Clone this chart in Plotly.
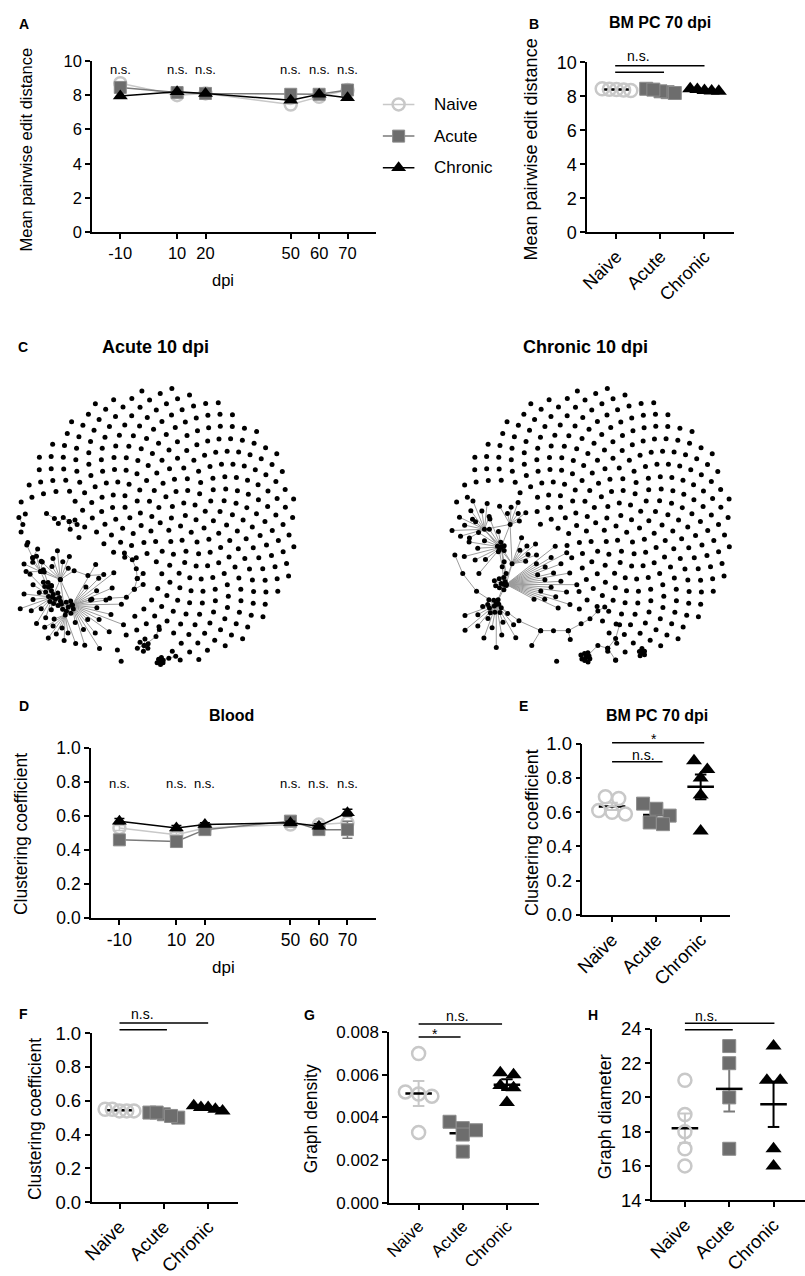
import numpy as np
import plotly.graph_objects as go

W, H = 805, 1276
FONT = "Liberation Sans, Arial, sans-serif"
NARROW = "Liberation Sans Narrow, Liberation Sans, Arial Narrow, sans-serif"

GROUPS = ["Naive", "Acute", "Chronic"]

# ---- time courses (A: mean pairwise edit distance, D: clustering coefficient, blood)
DPI = [-10, 10, 20, 50, 60, 70]
A_NAIVE = [8.7, 8.0, 8.1, 7.45, 7.9, 8.3]
A_ACUTE = [8.45, 8.15, 8.1, 8.05, 8.05, 8.3]
A_CHRONIC = [7.95, 8.2, 8.1, 7.7, 8.05, 7.85]

D_NAIVE = [0.53, 0.49, 0.53, 0.55, 0.55, 0.56]
D_ACUTE = [0.46, 0.45, 0.52, 0.57, 0.52, 0.52]
D_CHRONIC = [0.57, 0.53, 0.55, 0.56, 0.54, 0.62]
D_NAIVE_SEM = [0.015, 0.015, 0.01, 0.015, 0.015, 0.01]
D_ACUTE_SEM = [0.015, 0.015, 0.015, 0.015, 0.02, 0.05]
D_CHRONIC_SEM = [0.015, 0.015, 0.01, 0.01, 0.015, 0.02]

# ---- BM PC 70 dpi, per mouse
B_NAIVE = [8.42, 8.38, 8.45, 8.35, 8.40]
B_ACUTE = [8.25, 8.45, 8.30, 8.40, 8.20]
B_CHRONIC = [8.35, 8.45, 8.30, 8.40, 8.32]

E_NAIVE = [0.69, 0.68, 0.60, 0.59, 0.61]
E_ACUTE = [0.65, 0.62, 0.58, 0.54, 0.53]
E_CHRONIC = [0.90, 0.85, 0.80, 0.70, 0.49]

F_NAIVE = [0.54, 0.55, 0.54, 0.54, 0.55]
F_ACUTE = [0.50, 0.53, 0.52, 0.51, 0.53]
F_CHRONIC = [0.56, 0.57, 0.55, 0.56, 0.54]

G_NAIVE = [0.0070, 0.0052, 0.0051, 0.0050, 0.0033]
G_ACUTE = [0.0038, 0.0035, 0.0034, 0.0032, 0.0024]
G_CHRONIC = [0.0061, 0.0060, 0.0055, 0.0054, 0.0047]

H_NAIVE = [21, 19, 18, 17, 16]
H_ACUTE = [23, 22, 20, 17]
H_CHRONIC = [23, 21, 21, 17, 16]

# ---- network graphs (panel C): hubs (x, y, leaves, angle from, angle to, r in, r out)
ACUTE_CENTER = (149.5, 525)
CHRONIC_CENTER = (591, 525)
DISC_R = 142
N_DOTS = 420
ACUTE_HOLES = [(55, 600, 66), (118, 580, 24), (138, 648, 20), (40, 518, 22)]
ACUTE_HUBS = [
    (42, 596, 14, 95, 265, 12, 36),
    (62, 604, 20, -80, 60, 18, 58),
    (50, 578, 8, 55, 150, 14, 32),
    (55, 614, 9, 200, 290, 12, 32),
    (30, 570, 5, 80, 180, 10, 20),
]
ACUTE_CHAINS = [
    [(62, 604), (82, 598), (100, 597), (117, 596), (125, 588), (128, 577), (127, 567), (123, 558), (115, 551)],
    [(128, 577), (134, 572)],
    [(125, 588), (134, 583)],
    [(50, 578), (64, 569), (78, 574), (94, 573)],
    [(30, 570), (22, 556), (16, 543)],
    [(22, 556), (27, 547)],
    [(135, 645), (147, 636), (150, 626)],
    [(152, 660), (160, 658), (167, 656)],
    [(8, 515), (12, 522)],
    [(36, 511), (44, 516)],
    [(48, 521), (53, 515), (59, 519), (67, 522)],
    [(59, 519), (60, 527)],
]
ACUTE_CLUMPS = [(45, 598, 8, 8), (58, 606, 8, 8), (38, 586, 5, 6), (135, 645, 6, 8), (152, 661, 6, 4.5)]

CHRONIC_HOLES = [(497, 592, 78), (492, 530, 45), (578, 640, 28), (640, 652, 12)]
CHRONIC_HUBS = [
    (497, 545, 12, 100, 230, 16, 40),
    (480, 527, 11, 70, 210, 14, 34),
    (506, 522, 7, 20, 120, 10, 26),
    (502, 583, 20, -28, 38, 32, 74),
    (492, 603, 14, 190, 320, 14, 46),
    (508, 562, 7, 10, 70, 14, 34),
]
CHRONIC_CHAINS = [
    [(497, 545), (500, 560), (502, 572), (502, 583)],
    [(495, 548), (498, 565), (500, 583)],
    [(492, 603), (472, 590), (458, 572), (450, 553)],
    [(492, 603), (515, 620), (537, 630), (550, 630), (565, 630), (578, 623), (587, 618), (595, 610), (602, 606)],
    [(537, 630), (528, 645)],
    [(565, 630), (567, 639)],
    [(583, 657), (595, 645), (605, 648), (613, 638), (617, 624)],
    [(605, 648), (613, 660)],
]
CHRONIC_CLUMPS = [(497, 582, 8, 8), (490, 605, 10, 9), (497, 545, 5, 6), (583, 657, 8, 6), (640, 652, 5, 4.5)]

NAIVE_COL, ACUTE_COL, CHRONIC_COL = "#c8c8c8", "#6d6d6d", "#000000"
LINE_COL = {"Naive": NAIVE_COL, "Acute": "#7a7a7a", "Chronic": CHRONIC_COL}
ERR_COL = {"Naive": NAIVE_COL, "Acute": "#7a7a7a", "Chronic": CHRONIC_COL}


def marker(g, size):
    if g == "Naive":
        return dict(symbol="circle-open", size=size, color=NAIVE_COL, line=dict(color=NAIVE_COL, width=2.5))
    if g == "Acute":
        return dict(symbol="square", size=size, color=ACUTE_COL, line=dict(color="#8c8c8c", width=1))
    return dict(symbol="triangle-up", size=size + 1, color=CHRONIC_COL, line=dict(width=0))


def ids(n):
    return ("x", "y") if n == 1 else (f"x{n}", f"y{n}")


def xdom(a, b):
    return [a / W, min(b / W, 1.0)]


def ydom(top, bottom):
    return [1 - bottom / H, 1 - top / H]


def axis(size, **kw):
    d = dict(showline=True, linecolor="black", linewidth=1.5, ticks="outside", ticklen=5,
             tickwidth=1.5, tickcolor="black", showgrid=False, zeroline=False, fixedrange=True,
             tickfont=dict(family=FONT, size=size, color="black"))
    d.update(kw)
    return d


fig = go.Figure()
axes = {}


def add_axes(n, xpx, ypx, xr, yr, size, xkw, ykw):
    xa, ya = ids(n)
    xk = "xaxis" if n == 1 else f"xaxis{n}"
    yk = "yaxis" if n == 1 else f"yaxis{n}"
    axes[xk] = axis(size, domain=xdom(*xpx), range=xr, anchor=ya, **xkw)
    axes[yk] = axis(size, domain=ydom(*ypx), range=yr, anchor=xa, **ykw)


def note(text, xpx, ypx, size, bold=False, angle=0, family=FONT, xanchor="center"):
    fig.add_annotation(x=xpx / W, y=1 - ypx / H, xref="paper", yref="paper",
                       text=f"<b>{text}</b>" if bold else text, showarrow=False, textangle=angle,
                       font=dict(family=family, size=size, color="black"),
                       xanchor=xanchor, yanchor="middle")


def sig_line(n, xr, yr, x0, x1, yv):
    xa, ya = ids(n)
    fig.add_shape(type="line", xref=f"{xa} domain", yref=f"{ya} domain",
                  x0=(x0 - xr[0]) / (xr[1] - xr[0]), x1=(x1 - xr[0]) / (xr[1] - xr[0]),
                  y0=(yv - yr[0]) / (yr[1] - yr[0]), y1=(yv - yr[0]) / (yr[1] - yr[0]),
                  line=dict(color="black", width=1.5))


def sig_text(n, xr, yr, xv, yv, text, size=13):
    xa, ya = ids(n)
    fig.add_annotation(xref=f"{xa} domain", yref=f"{ya} domain",
                       x=(xv - xr[0]) / (xr[1] - xr[0]), y=(yv - yr[0]) / (yr[1] - yr[0]),
                       text=text, showarrow=False, xanchor="center", yanchor="middle",
                       font=dict(family=FONT, size=size, color="black"))


def spread(vals, thresh):
    order = np.argsort(-vals, kind="stable")
    groups = []
    for idx in order:
        if groups and abs(vals[groups[-1][0]] - vals[idx]) < thresh:
            groups[-1].append(idx)
        else:
            groups.append([idx])
    offs = np.zeros(len(vals))
    for g in groups:
        k = len(g)
        step = 0.3 if k <= 3 else 0.65 / (k - 1)
        for j, idx in enumerate(g):
            offs[idx] = (j - (k - 1) / 2) * step
    return offs


def dot_panel(n, data, yr, ypx, msize=13):
    xa, ya = ids(n)
    px_unit = (ypx[1] - ypx[0]) / (yr[1] - yr[0])
    thresh = 12.5 / px_unit
    for i, (g, vals) in enumerate(zip(GROUPS, data)):
        v = np.array(vals, dtype=float)
        m = v.mean()
        s = v.std(ddof=1) / np.sqrt(len(v))
        fig.add_trace(go.Scatter(
            x=[i, i, None, i - 0.13, i + 0.13, None, i - 0.13, i + 0.13],
            y=[m - s, m + s, None, m - s, m - s, None, m + s, m + s],
            mode="lines", line=dict(color=ERR_COL[g], width=2), xaxis=xa, yaxis=ya,
            hoverinfo="skip", cliponaxis=False))
        fig.add_trace(go.Scatter(x=[i - 0.3, i + 0.3], y=[m, m], mode="lines",
                                 line=dict(color="black", width=2.5), xaxis=xa, yaxis=ya,
                                 hoverinfo="skip", cliponaxis=False))
        fig.add_trace(go.Scatter(x=i + spread(v, thresh), y=v, mode="markers", name=g,
                                 marker=marker(g, msize), xaxis=xa, yaxis=ya, cliponaxis=False))


cat_x = dict(tickvals=[0, 1, 2], ticktext=GROUPS, tickangle=-45)
dpi_x = dict(tickvals=DPI, ticktext=[str(d) for d in DPI])

# ---------------- A
add_axes(1, (82, 370), (50.7, 225), [-20, 80], [0, 10], 16.5,
         dpi_x, dict(tickvals=[0, 2, 4, 6, 8, 10]))
for g, vals in zip(GROUPS, [A_NAIVE, A_ACUTE, A_CHRONIC]):
    fig.add_trace(go.Scatter(x=DPI, y=vals, mode="lines+markers", name=g,
                             line=dict(color=LINE_COL[g], width=1.5), marker=marker(g, 12),
                             xaxis="x", yaxis="y", cliponaxis=False))
for d in DPI:
    fig.add_annotation(x=d, y=9.52, xref="x", yref="y", text="n.s.", showarrow=False,
                       font=dict(family=FONT, size=13, color="black"))
note("<b>A</b>", 13, 13, 14)
note("Mean pairwise edit distance", 15, 141, 16.5, angle=-90)
note("dpi", 215, 273, 16.5)

# legend of A drawn on the pixel overlay
for i, g in enumerate(GROUPS):
    ly = 95 + 32.2 * i
    fig.add_trace(go.Scatter(x=[377, 409], y=[ly, ly], mode="lines", line=dict(color=LINE_COL[g], width=1.5),
                             xaxis="x8", yaxis="y8", hoverinfo="skip"))
    fig.add_trace(go.Scatter(x=[393], y=[ly], mode="markers", marker=marker(g, 12),
                             xaxis="x8", yaxis="y8", hoverinfo="skip"))
    note(g, 427, ly, 17, xanchor="left")

# ---------------- B
XR_B, YR_B = [-0.67, 2.67], [0, 10]
add_axes(2, (584, 733), (52.3, 225), XR_B, YR_B, 18, cat_x, dict(tickvals=[0, 2, 4, 6, 8, 10]))
dot_panel(2, [B_NAIVE, B_ACUTE, B_CHRONIC], YR_B, (52.3, 225))
sig_line(2, XR_B, YR_B, -0.03, 2.0, 9.8)
sig_line(2, XR_B, YR_B, -0.03, 1.08, 9.42)
sig_text(2, XR_B, YR_B, 0.5, 10.35, "n.s.", 14)
note("B", 530, 13, 14, bold=True)
note("BM PC 70 dpi", 658, 12, 16, bold=True)
note("Mean pairwise edit distance", 527, 141, 18, angle=-90)

# ---------------- C
note("C", 12, 342, 14, bold=True)
note("Acute 10 dpi", 147, 342, 18, bold=True, family=NARROW)
note("Chronic 10 dpi", 582, 342, 18, bold=True, family=NARROW)

GOLDEN = np.pi * (3 - np.sqrt(5))


def network(center, holes, hubs, chains, clumps):
    cx, cy = center
    k = np.arange(N_DOTS) + 0.5
    rad = DISC_R * np.sqrt(k / N_DOTS)
    th = k * GOLDEN
    xs = cx + rad * np.cos(th)
    ys = cy - rad * np.sin(th)
    keep = np.ones(N_DOTS, bool)
    for hx, hy, hr in holes:
        keep &= (xs - hx) ** 2 + (ys - hy) ** 2 > hr ** 2
    nx, ny = list(xs[keep]), list(ys[keep])
    ex, ey = [], []

    def edge(a, b):
        ex.extend([a[0], b[0], None])
        ey.extend([a[1], b[1], None])

    for j, (hx, hy, n, a0, a1, r0, r1) in enumerate(hubs):
        nx.append(hx)
        ny.append(hy)
        for t in range(n):
            a = np.radians(a0 + (a1 - a0) * t / max(n - 1, 1))
            r = r0 + (r1 - r0) * ((t * 0.618) % 1)
            p = (hx + r * np.cos(a), hy - r * np.sin(a))
            nx.append(p[0])
            ny.append(p[1])
            edge((hx, hy), p)
        for h2 in hubs[j + 1:]:
            if (h2[0] - hx) ** 2 + (h2[1] - hy) ** 2 < 45 ** 2:
                edge((hx, hy), (h2[0], h2[1]))
    for ch in chains:
        for a, b in zip(ch[:-1], ch[1:]):
            edge(a, b)
        nx.extend(p[0] for p in ch)
        ny.extend(p[1] for p in ch)
    for qx, qy, n, r in clumps:
        nx.append(qx)
        ny.append(qy)
        for t in range(n):
            a = 2 * np.pi * t / n + 0.4
            rr = r * (0.55 + 0.45 * ((t * 0.618) % 1))
            p = (qx + rr * np.cos(a), qy - rr * np.sin(a))
            nx.append(p[0])
            ny.append(p[1])
            edge((qx, qy), p)
    return nx, ny, ex, ey


for spec in [(ACUTE_CENTER, ACUTE_HOLES, ACUTE_HUBS, ACUTE_CHAINS, ACUTE_CLUMPS),
             (CHRONIC_CENTER, CHRONIC_HOLES, CHRONIC_HUBS, CHRONIC_CHAINS, CHRONIC_CLUMPS)]:
    nx, ny, ex, ey = network(*spec)
    fig.add_trace(go.Scatter(x=ex, y=ey, mode="lines", line=dict(color="#9c9c9c", width=1),
                             xaxis="x8", yaxis="y8", hoverinfo="skip"))
    fig.add_trace(go.Scatter(x=nx, y=ny, mode="markers", marker=dict(color="black", size=5),
                             xaxis="x8", yaxis="y8", hoverinfo="skip"))

# ---------------- D
add_axes(3, (81, 370), (749.3, 922.3), [-20, 80], [0, 1], 17.5,
         dpi_x, dict(tickvals=[0, 0.2, 0.4, 0.6, 0.8, 1.0], tickformat=".1f"))
for g, vals, sem in zip(GROUPS, [D_NAIVE, D_ACUTE, D_CHRONIC], [D_NAIVE_SEM, D_ACUTE_SEM, D_CHRONIC_SEM]):
    fig.add_trace(go.Scatter(x=DPI, y=vals, mode="lines+markers", name=g,
                             line=dict(color=LINE_COL[g], width=1.5), marker=marker(g, 12),
                             error_y=dict(type="data", array=sem, color=ERR_COL[g], thickness=1.5, width=5),
                             xaxis="x3", yaxis="y3", cliponaxis=False))
for d in DPI:
    fig.add_annotation(x=d, y=0.79, xref="x3", yref="y3", text="n.s.", showarrow=False,
                       font=dict(family=FONT, size=13, color="black"))
note("D", 13, 707, 14, bold=True)
note("Blood", 224, 716, 16, bold=True)
note("Clustering coefficient", 10, 837, 17.5, angle=-90)
note("dpi", 215, 973, 17)

# ---------------- E
XR_E, YR_E = [-0.67, 2.67], [0, 1]
add_axes(4, (579.3, 729.3), (745, 919), XR_E, YR_E, 18.5, cat_x,
         dict(tickvals=[0, 0.2, 0.4, 0.6, 0.8, 1.0], tickformat=".1f"))
dot_panel(4, [E_NAIVE, E_ACUTE, E_CHRONIC], YR_E, (745, 919))
sig_line(4, XR_E, YR_E, 0, 2.08, 1.006)
sig_line(4, XR_E, YR_E, 0, 1.14, 0.895)
sig_text(4, XR_E, YR_E, 0.94, 1.03, "*", 14)
sig_text(4, XR_E, YR_E, 0.70, 0.935, "n.s.", 14)
note("E", 520, 707, 14, bold=True)
note("BM PC 70 dpi", 655, 716, 16, bold=True)
note("Clustering coefficient", 528, 835, 18, angle=-90)

# ---------------- F
XR_F, YR_F = [-0.63, 2.67], [0, 1]
add_axes(5, (81.7, 230), (1039.3, 1211), XR_F, YR_F, 18.5, cat_x,
         dict(tickvals=[0, 0.2, 0.4, 0.6, 0.8, 1.0], tickformat=".1f"))
dot_panel(5, [F_NAIVE, F_ACUTE, F_CHRONIC], YR_F, (1039.3, 1211))
sig_line(5, XR_F, YR_F, 0, 2.0, 1.06)
sig_line(5, XR_F, YR_F, 0, 1.07, 1.021)
sig_text(5, XR_F, YR_F, 0.51, 1.112, "n.s.", 14)
note("F", 13, 1020, 14, bold=True)
note("Clustering coefficient", 25, 1127, 17.5, angle=-90)

# ---------------- G
XR_G, YR_G = [-0.67, 2.72], [0, 0.008]
add_axes(6, (383.3, 535), (1038.3, 1211.7), XR_G, YR_G, 17, cat_x,
         dict(tickvals=[0, 0.002, 0.004, 0.006, 0.008], tickformat=".3f"))
dot_panel(6, [G_NAIVE, G_ACUTE, G_CHRONIC], YR_G, (1038.3, 1211.7))
sig_line(6, XR_G, YR_G, 0, 1.89, 0.00838)
sig_line(6, XR_G, YR_G, 0, 0.95, 0.00777)
sig_text(6, XR_G, YR_G, 0.88, 0.00877, "n.s.", 14)
sig_text(6, XR_G, YR_G, 0.37, 0.00790, "*", 14)
note("G", 303, 1021, 14, bold=True)
note("Graph density", 305, 1126, 17.5, angle=-90)

# ---------------- H
XR_H, YR_H = [-0.74, 2.71], [14, 24]
add_axes(7, (650, 805), (1035, 1209), XR_H, YR_H, 18.5, cat_x,
         dict(tickvals=[14, 16, 18, 20, 22, 24]))
dot_panel(7, [H_NAIVE, H_ACUTE, H_CHRONIC], YR_H, (1035, 1209))
sig_line(7, XR_H, YR_H, 0, 2.02, 24.34)
sig_line(7, XR_H, YR_H, 0, 1.08, 23.96)
sig_text(7, XR_H, YR_H, 0.48, 24.76, "n.s.", 14)
note("H", 590, 1021, 14, bold=True)
note("Graph diameter", 602, 1124, 18, angle=-90)

# pixel overlay for network graphs and legend
axes["xaxis8"] = dict(domain=[0, 1], range=[0, W], visible=False, anchor="y8", fixedrange=True)
axes["yaxis8"] = dict(domain=[0, 1], range=[H, 0], visible=False, anchor="x8", fixedrange=True)

fig.update_layout(
    width=W, height=H,
    margin=dict(l=0, r=0, t=0, b=0),
    paper_bgcolor="white", plot_bgcolor="rgba(0,0,0,0)",
    showlegend=False,
    font=dict(family=FONT, color="black"),
    **axes,
)

# the page's default body margin would push the figure 8px off the window
fig.write_html("out.html", config={"displayModeBar": False},
               post_script="document.body.style.margin='0';document.body.style.overflow='hidden';")
